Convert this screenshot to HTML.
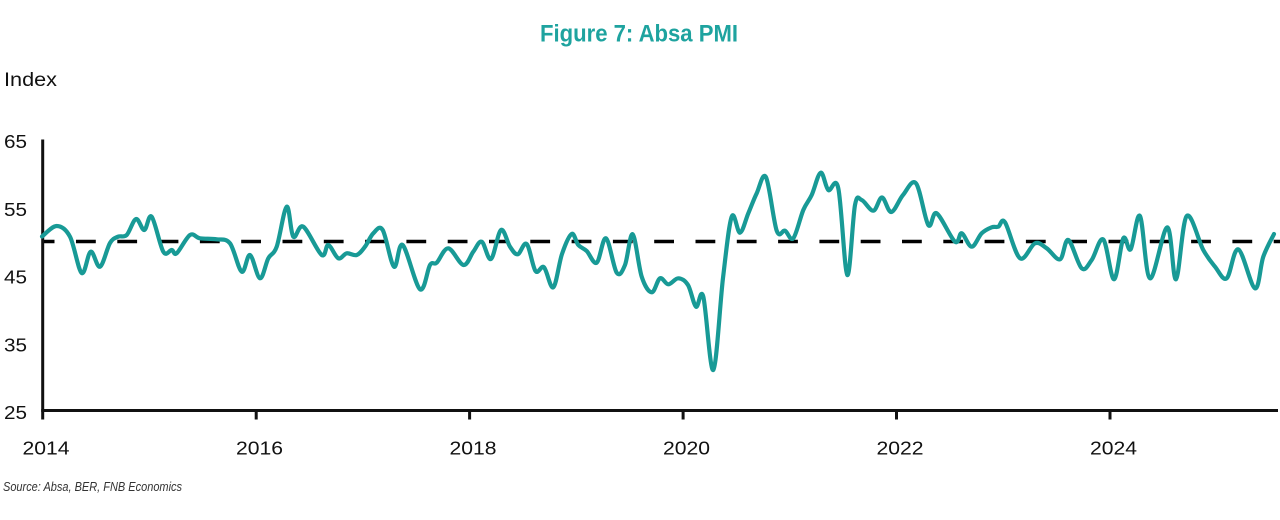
<!DOCTYPE html>
<html>
<head>
<meta charset="utf-8">
<style>
  html,body{margin:0;padding:0;background:#fff;}
  svg{display:block;}
  text{font-family:"Liberation Sans",Arial,sans-serif;fill:#111;}
</style>
</head>
<body>
<svg id="chart" width="1280" height="520" viewBox="0 0 1280 520" xmlns="http://www.w3.org/2000/svg">
  <rect x="0" y="0" width="1280" height="520" fill="#fff"/>
  <!-- Title -->
  <text x="540" y="41.5" font-size="24" font-weight="bold" textLength="198" lengthAdjust="spacingAndGlyphs" style="fill:#1ea39f">Figure 7: Absa PMI</text>
  <!-- Y axis title -->
  <text x="4" y="86" font-size="19" textLength="53" lengthAdjust="spacingAndGlyphs">Index</text>
  <!-- Y tick labels -->
  <text x="4" y="148" font-size="18" textLength="23" lengthAdjust="spacingAndGlyphs">65</text>
  <text x="4" y="215.8" font-size="18" textLength="23" lengthAdjust="spacingAndGlyphs">55</text>
  <text x="4" y="283.5" font-size="18" textLength="23" lengthAdjust="spacingAndGlyphs">45</text>
  <text x="4" y="351.3" font-size="18" textLength="23" lengthAdjust="spacingAndGlyphs">35</text>
  <text x="4" y="419" font-size="18" textLength="23" lengthAdjust="spacingAndGlyphs">25</text>
  <!-- X tick labels -->
  <text x="22.5" y="454.5" font-size="18" textLength="47" lengthAdjust="spacingAndGlyphs">2014</text>
  <text x="236" y="454.5" font-size="18" textLength="47" lengthAdjust="spacingAndGlyphs">2016</text>
  <text x="449.5" y="454.5" font-size="18" textLength="47" lengthAdjust="spacingAndGlyphs">2018</text>
  <text x="663" y="454.5" font-size="18" textLength="47" lengthAdjust="spacingAndGlyphs">2020</text>
  <text x="876.5" y="454.5" font-size="18" textLength="47" lengthAdjust="spacingAndGlyphs">2022</text>
  <text x="1090" y="454.5" font-size="18" textLength="47" lengthAdjust="spacingAndGlyphs">2024</text>
  <!-- Source -->
  <text x="3" y="491" font-size="13" font-style="italic" textLength="179" lengthAdjust="spacingAndGlyphs" style="fill:#333">Source: Absa, BER, FNB Economics</text>

  <!-- Axes -->
  <line x1="42.7" y1="139.5" x2="42.7" y2="419.5" stroke="#111" stroke-width="3"/>
  <line x1="41.2" y1="410.5" x2="1278" y2="410.5" stroke="#111" stroke-width="3"/>
  <g stroke="#111" stroke-width="3">
    <line x1="256.2" y1="410" x2="256.2" y2="419.5"/>
    <line x1="469.6" y1="410" x2="469.6" y2="419.5"/>
    <line x1="683.1" y1="410" x2="683.1" y2="419.5"/>
    <line x1="896.5" y1="410" x2="896.5" y2="419.5"/>
    <line x1="1110" y1="410" x2="1110" y2="419.5"/>
  </g>

  <!-- 50 reference dashed line -->
  <line x1="44" y1="241.5" x2="1280" y2="241.5" stroke="#000" stroke-width="3.6" stroke-dasharray="19.8 21.5" stroke-dashoffset="9.3"/>

  <!-- Series -->
  <path id="series" fill="none" stroke="#189a96" stroke-width="4.2" stroke-linejoin="round" stroke-linecap="round"
    d="M42,236.5 L56.7,226 L70,236.7 L81.7,273 L90.7,251.7 L100,266.7 L110,243 L118,236.7 L126.7,235 L136,219 L144.3,230 L151.7,216.7 L163.3,251.7 L171.7,250 L176.7,253.3 L190,235 L200,238.3 L216.7,239.3 L230,243.3 L241.7,271.7 L250,255 L260,278.3 L268.3,258.3 L276.7,246.7 L286.7,206.7 L293.3,236.7 L303.3,226.7 L321.7,255 L328.3,245 L338.3,258.3 L346.7,253.3 L356.7,255 L365,246.7 L373.3,233.3 L382.7,230 L394,266.7 L402.7,245 L420,289.3 L430,265 L436.7,262.7 L448.3,248.3 L463.5,265 L473.3,251.7 L481.7,241.7 L491,259 L501,230 L510,246.7 L517.7,254.3 L526.7,244 L535.5,271 L544,267.3 L553.3,287.3 L562,254 L571.7,234 L578.3,245 L586.7,251 L596.7,262.7 L606,238.3 L616.7,272.7 L625,265 L632.7,234.3 L641.7,276.7 L651.7,292.3 L660,278.3 L668.3,284.3 L678.3,278.3 L688,285 L696,306.7 L703.3,296.7 L713.3,370 L723,278 L731.7,216.7 L740,232.7 L748.3,213.3 L756.7,193.3 L766,177.3 L776.7,230.7 L785,230.7 L793.3,238.3 L803.3,210 L811.7,195 L820.7,172.7 L828.3,190 L838.3,188.3 L847.3,275 L855,205 L861.7,200 L873.3,210.7 L882,197.5 L891.3,212 L903,195 L916,183.3 L928.3,225 L936.7,213.3 L955,241.7 L961.7,233.3 L971.7,246.7 L981.7,233.3 L991.7,227.3 L998.3,226.7 L1005,222.3 L1020,258.3 L1035,243.3 L1046.7,248.3 L1060,259.3 L1068.3,240 L1081.7,268.3 L1091.7,260 L1103.3,239.5 L1114,279.3 L1123.3,238.3 L1130.7,249.3 L1140,216 L1150,278.3 L1167.3,227.3 L1176,279.3 L1186.7,216 L1203.3,250 L1215,266.7 L1226.7,278.3 L1238.3,249.3 L1255,288.3 L1263.3,256.7 L1274,234"/>
</svg>
<script>
(function(){
  var p = document.getElementById('series');
  var d = p.getAttribute('d');
  var nums = d.replace(/[ML]/g,' ').trim().split(/[\s,]+/).map(Number);
  var pts = [];
  for (var i=0;i<nums.length;i+=2) pts.push([nums[i],nums[i+1]]);
  var out = 'M' + pts[0][0] + ',' + pts[0][1];
  for (var i=0;i<pts.length-1;i++){
    var p0 = pts[i-1]||pts[i], p1=pts[i], p2=pts[i+1], p3=pts[i+2]||pts[i+1];
    var c1x = p1[0] + (p2[0]-p0[0])/6, c1y = p1[1] + (p2[1]-p0[1])/6;
    var c2x = p2[0] - (p3[0]-p1[0])/6, c2y = p2[1] - (p3[1]-p1[1])/6;
    out += ' C' + c1x.toFixed(2)+','+c1y.toFixed(2)+' '+c2x.toFixed(2)+','+c2y.toFixed(2)+' '+p2[0]+','+p2[1];
  }
  p.setAttribute('d', out);
})();
</script>
</body>
</html>
